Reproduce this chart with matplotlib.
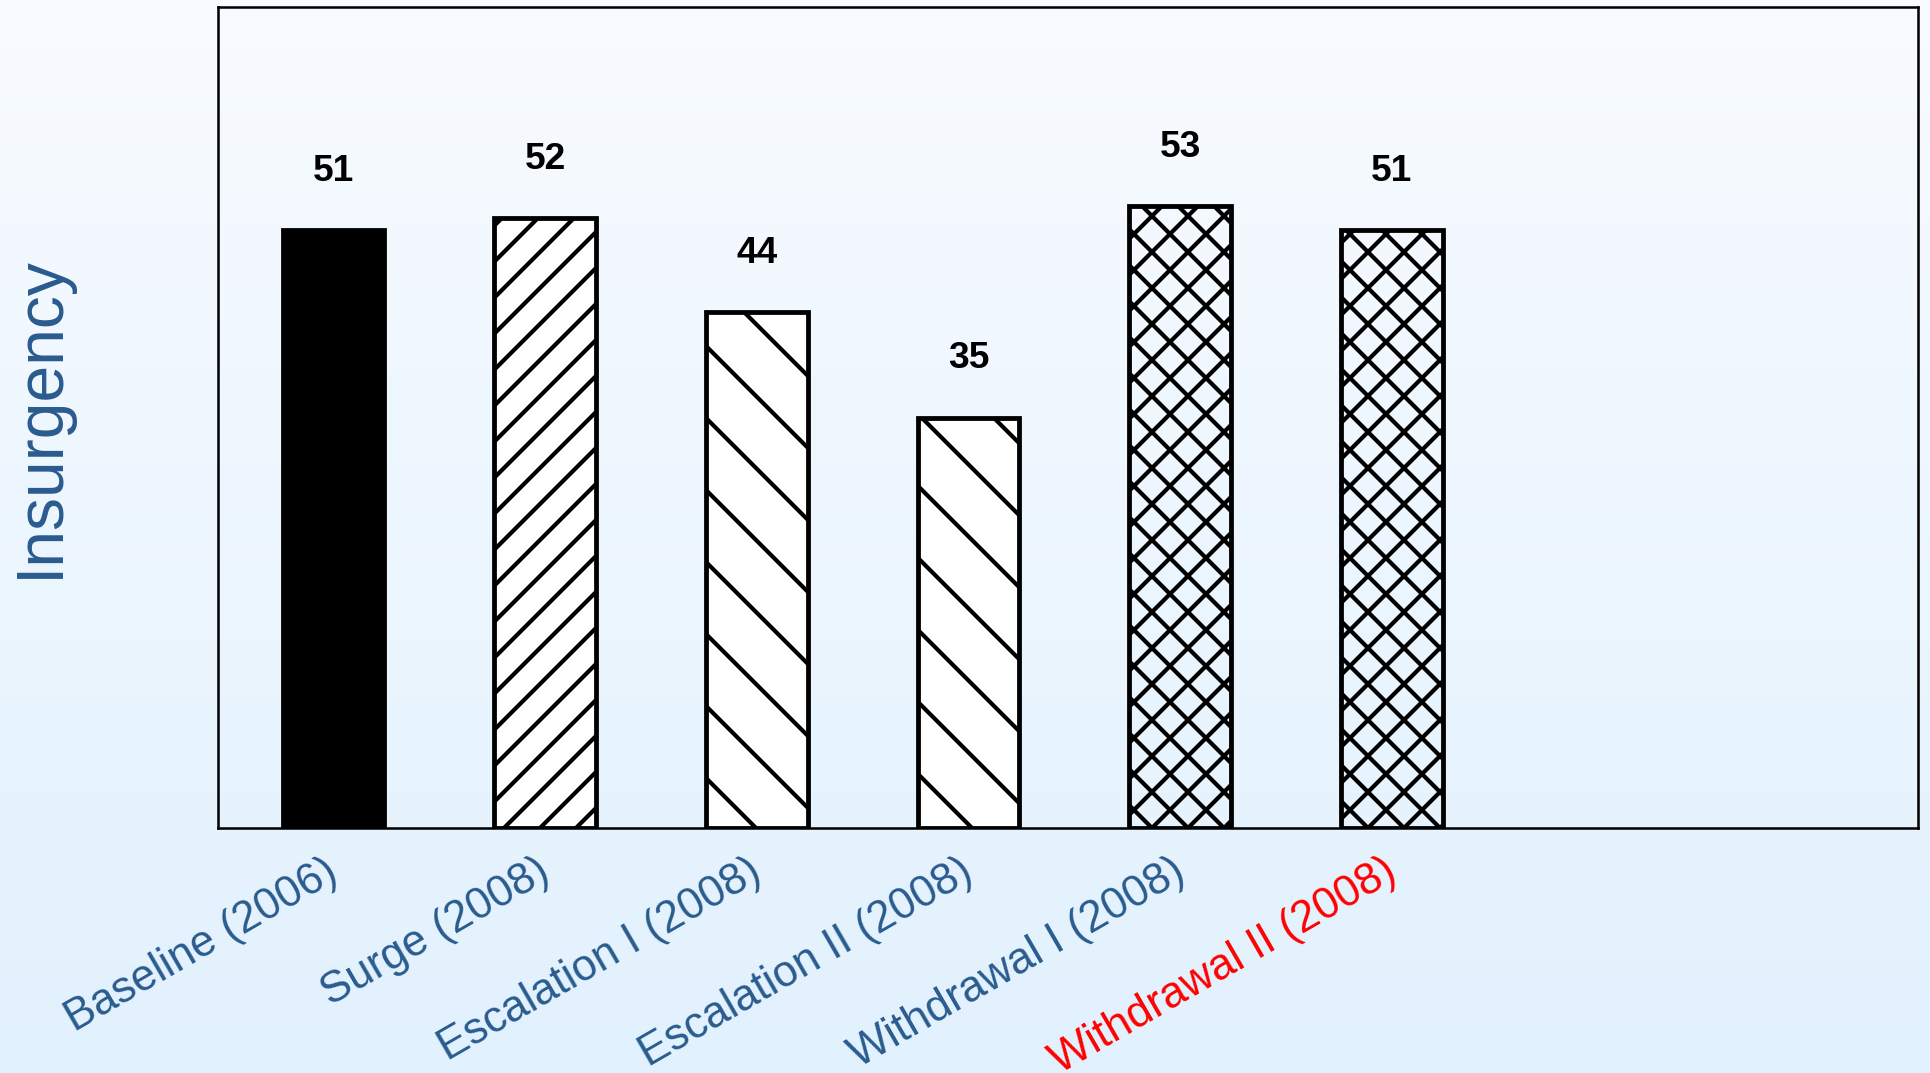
import matplotlib
matplotlib.use("Agg")
import matplotlib.pyplot as plt
import matplotlib.transforms as mtransforms
import numpy as np

categories = ["Baseline (2006)", "Surge (2008)", "Escalation I (2008)",
              "Escalation II (2008)", "Withdrawal I (2008)", "Withdrawal II (2008)"]
values = [51, 52, 44, 35, 53, 51]
fills = ["black", "white", "white", "white", "none", "none"]
hatches = [None, "////", "\\\\", "\\\\", "xxxx", "xxxx"]
label_colors = ["#2a5b8e"] * 5 + ["red"]

BLUE = "#2a5b8e"
DPI = 432  # 6 px per point -- sets the hatch spacing

plt.rcParams["font.family"] = ["Liberation Sans", "DejaVu Sans"]
plt.rcParams["hatch.linewidth"] = 0.7

W, H = 1930, 1073
fig = plt.figure(figsize=(W / DPI, H / DPI), dpi=DPI)

# soft vertical gradient behind everything
bg = fig.add_axes([0, 0, 1, 1], zorder=0)
top = np.array([248, 251, 255]) / 255
bottom = np.array([225, 241, 253]) / 255
t = np.linspace(0, 1, 256)[:, None]
grad = top + (bottom - top) * t
bg.imshow(grad[:, None, :], aspect="auto", extent=(0, 1, 0, 1))
bg.axis("off")

ax = fig.add_axes([218 / W, 1 - 828 / H, 1700 / W, 821 / H], zorder=1)
ax.set_facecolor("none")

x = np.arange(len(values))
bars = ax.bar(x, values, width=0.48, color=fills, edgecolor="black", linewidth=0.8)
for bar, h in zip(bars, hatches):
    if h:
        bar.set_hatch(h)

for i, v in zip(x, values):
    ax.text(i, v + 5.0, str(v), ha="center", va="center",
            fontsize=6.2, fontweight="bold", color="black")

ax.set_xlim(-0.545, 7.485)
ax.set_ylim(0, 70)
ax.set_yticks([])
ax.set_xticks(x)
ax.set_xticklabels(categories, rotation=30, ha="right", rotation_mode="anchor",
                   fontsize=7.3)
ax.tick_params(axis="x", length=0, pad=3.8)
shift = mtransforms.ScaledTranslation(-1.5 / 72, 0, fig.dpi_scale_trans)
for lbl, c in zip(ax.get_xticklabels(), label_colors):
    lbl.set_color(c)
    lbl.set_transform(lbl.get_transform() + shift)
for s in ax.spines.values():
    s.set_linewidth(0.42)

fig.text(41 / W, 1 - 417 / H, "Insurgency", rotation=90, ha="center", va="center",
         fontsize=11, color=BLUE)

fig.savefig("out.png", dpi=DPI)
